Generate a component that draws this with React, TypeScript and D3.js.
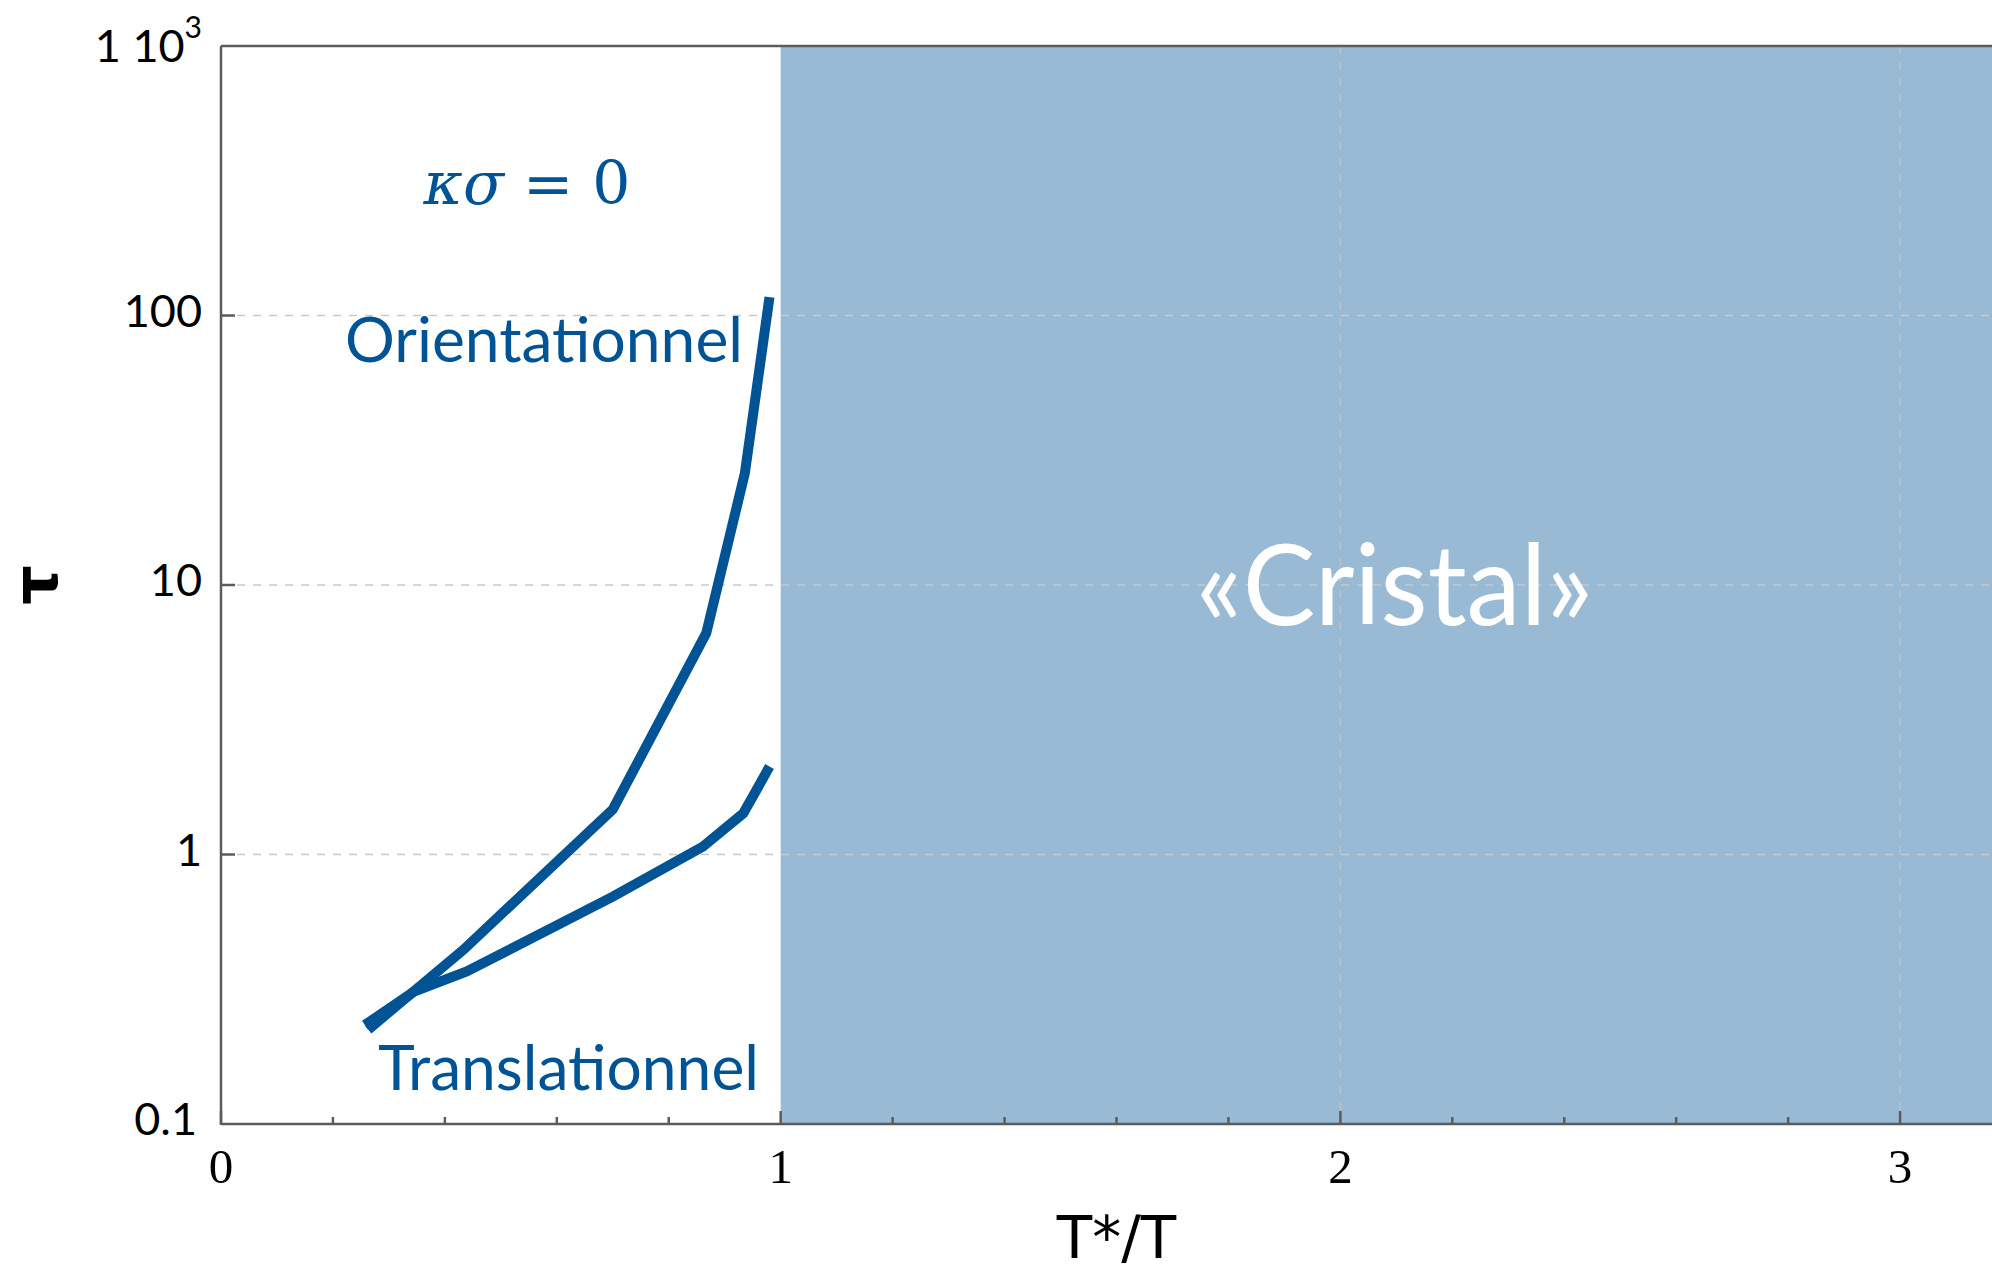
import React from "react";
import * as d3 from "d3";

// Phase boundaries (relaxation time τ vs. reduced inverse temperature T*/T)
const orientX = [0.263, 0.433, 0.70, 0.867, 0.936, 0.98];
const orientTau = [0.224, 0.443, 1.47, 6.63, 26.0, 117];

const transX = [0.257, 0.345, 0.439, 0.70, 0.861, 0.933, 0.957, 0.98];
const transTau = [0.233, 0.31, 0.368, 0.698, 1.07, 1.42, 1.74, 2.12];

// Region beyond T*/T = 1
const crystalFrom = 1;

const xMajorTicks = [0, 1, 2, 3];
const xMinorTicks = [0.2, 0.4, 0.6, 0.8, 1.2, 1.4, 1.6, 1.8, 2.2, 2.4, 2.6, 2.8, 3.2];
const yTicks = [0.1, 1, 10, 100];
const yTickLabels = ["0.1", "1", "10", "100"];
const yGrid = [1, 10, 100];
const xGrid = [2, 3];

const W = 1992;
const H = 1272;
const LEFT = 221;
const RIGHT = 2012;
const TOP = 46;
const BOTTOM = 1124;

const BLUE = "#005394";
const SHADE = "#99bad4";
const AXIS = "#5c5c5c";
const GRID = "#c9c9c9";

export default function App() {
  const x = d3.scaleLinear().domain([0, 3.2]).range([LEFT, RIGHT]);
  const y = d3.scaleLog().domain([0.1, 1000]).range([BOTTOM, TOP]);

  const line = d3
    .line<[number, number]>()
    .x((d) => x(d[0]))
    .y((d) => y(d[1]));

  const orient = orientX.map((v, i) => [v, orientTau[i]] as [number, number]);
  const trans = transX.map((v, i) => [v, transTau[i]] as [number, number]);

  const tickFont = "Lato, 'Open Sans', sans-serif";

  return (
    <svg
      width={W}
      height={H}
      style={{ position: "absolute", left: 0, top: 0, background: "#fff" }}
    >
      <rect x={0} y={0} width={W} height={H} fill="#fff" />
      {/* shaded crystal region */}
      <rect
        x={x(crystalFrom)}
        y={y(1000)}
        width={x(3.2) - x(crystalFrom)}
        height={y(0.1) - y(1000)}
        fill={SHADE}
      />
      {/* dashed grid */}
      {yGrid.map((v) => (
        <line
          key={"gy" + v}
          x1={LEFT}
          x2={RIGHT}
          y1={y(v)}
          y2={y(v)}
          stroke={GRID}
          strokeWidth={1.3}
          strokeDasharray="8 8"
        />
      ))}
      {xGrid.map((v) => (
        <line
          key={"gx" + v}
          x1={x(v)}
          x2={x(v)}
          y1={TOP}
          y2={BOTTOM}
          stroke={GRID}
          strokeOpacity={0.7}
          strokeWidth={1.2}
          strokeDasharray="8 8"
        />
      ))}
      {/* frame */}
      <line x1={LEFT} x2={RIGHT} y1={TOP} y2={TOP} stroke={AXIS} strokeWidth={2.5} />
      <line x1={LEFT} x2={LEFT} y1={TOP} y2={BOTTOM + 1} stroke={AXIS} strokeWidth={2.5} />
      <line x1={LEFT} x2={RIGHT} y1={BOTTOM} y2={BOTTOM} stroke={AXIS} strokeWidth={2.5} />
      {/* x ticks */}
      {xMajorTicks.map((v) => (
        <g key={"xt" + v}>
          <line x1={x(v)} x2={x(v)} y1={BOTTOM} y2={BOTTOM - 13} stroke={AXIS} strokeWidth={2.5} />
          <text
            x={x(v)}
            y={1183}
            textAnchor="middle"
            fontFamily="'Liberation Serif', 'DejaVu Serif', serif"
            fontSize={49}
            fill="#000"
          >
            {v}
          </text>
        </g>
      ))}
      {xMinorTicks.map((v) => (
        <line
          key={"xm" + v}
          x1={x(v)}
          x2={x(v)}
          y1={BOTTOM}
          y2={BOTTOM - 7}
          stroke={AXIS}
          strokeWidth={2.5}
        />
      ))}
      {/* y ticks */}
      {yTicks.map((v, i) => (
        <g key={"yt" + v}>
          {v > 0.1 && (
            <line x1={LEFT} x2={LEFT + 14} y1={y(v)} y2={y(v)} stroke={AXIS} strokeWidth={2.5} />
          )}
          <text
            x={v === 0.1 ? 197 : 202}
            y={y(v) + 11}
            textAnchor="end"
            fontFamily={tickFont}
            fontSize={45}
            fill="#000"
          >
            {yTickLabels[i]}
          </text>
        </g>
      ))}
      <text x={202} y={62} textAnchor="end" fontFamily={tickFont} fontSize={45} fill="#000">
        <tspan>1 10</tspan>
        <tspan dy={-24} fontSize={30}>3</tspan>
      </text>
      {/* curves */}
      <path
        d={line(orient) || ""}
        fill="none"
        stroke={BLUE}
        strokeWidth={10}
        strokeLinejoin="miter"
        strokeLinecap="butt"
      />
      <path
        d={line(trans) || ""}
        fill="none"
        stroke={BLUE}
        strokeWidth={10}
        strokeLinejoin="miter"
        strokeLinecap="butt"
      />
      {/* annotations */}
      <text
        x={527}
        y={204}
        textAnchor="middle"
        fontFamily="'DejaVu Serif', 'Liberation Serif', serif"
        fontSize={60}
        fill={BLUE}
      >
        <tspan fontStyle="italic">κσ</tspan>
        <tspan> = 0</tspan>
      </text>
      <text
        x={345}
        y={362}
        fontFamily={tickFont}
        fontSize={62}
        fill={BLUE}
        textLength={398}
        lengthAdjust="spacingAndGlyphs"
      >
        Orientationnel
      </text>
      <text
        x={378}
        y={1090}
        fontFamily={tickFont}
        fontSize={61}
        fill={BLUE}
        textLength={381}
        lengthAdjust="spacingAndGlyphs"
      >
        Translationnel
      </text>
      <text
        x={1196}
        y={625}
        fontFamily={tickFont}
        fontSize={112}
        fill="#fff"
        textLength={397}
        lengthAdjust="spacingAndGlyphs"
      >
        «Cristal»
      </text>
      {/* axis titles */}
      <text
        x={(LEFT + RIGHT) / 2}
        y={1258}
        textAnchor="middle"
        fontFamily="'DejaVu Sans', 'Liberation Sans', sans-serif"
        fontSize={58}
        fill="#000"
      >
        T*/T
      </text>
      <text
        transform={`translate(57, ${(TOP + BOTTOM) / 2}) rotate(-90)`}
        textAnchor="middle"
        fontFamily="'DejaVu Sans', sans-serif"
        fontSize={62}
        fontWeight="bold"
        fill="#000"
      >
        τ
      </text>
    </svg>
  );
}
